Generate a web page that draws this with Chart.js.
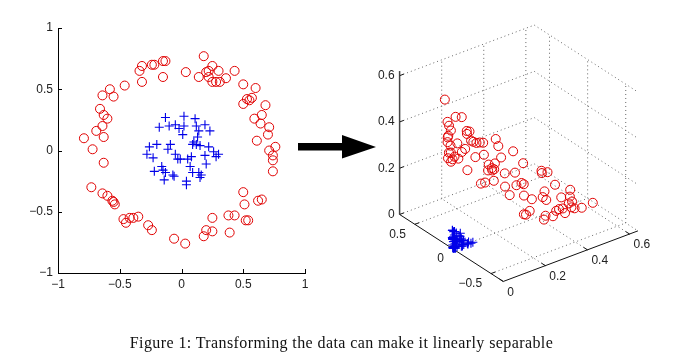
<!DOCTYPE html>
<html>
<head>
<meta charset="utf-8">
<script src="https://cdn.jsdelivr.net/npm/chart.js@4.4.0/dist/chart.umd.min.js"></script>
<style>
body { margin: 0; background: #fff; width: 700px; height: 361px; overflow: hidden; position: relative; }
#chart-left { position: absolute; left: 0; top: 0; }
#chart-right { position: absolute; left: 330px; top: 0; }
#arrow { position: absolute; left: 0; top: 0; pointer-events: none; }
#caption { position: absolute; left: 0; top: 334px; width: 683px; text-align: center;
  font-family: 'Liberation Serif', serif; font-size: 16px; letter-spacing: 0.4px; color: #111; white-space: nowrap; }
</style>
</head>
<body>
<canvas id="chart-left" width="330" height="310"></canvas>
<canvas id="chart-right" width="370" height="310"></canvas>
<svg id="arrow" width="700" height="361"><polygon points="298,143 342,143 342,135 376,147 342,158.5 342,150.5 298,150.5" fill="#000"/></svg>
<div id="caption">Figure 1: Transforming the data can make it linearly separable</div>

<script>
// outer ring (red circles)
const ring_x = [0.18,-0.32,-0.24,-0.22,-0.15,-0.13,-0.34,-0.32,-0.15,-0.46,0.035,0.14,0.20,0.22,0.25,0.30,0.22,0.25,0.28,0.31,0.36,0.43,
  0.50,0.60,0.50,0.53,0.55,0.57,0.68,0.59,0.65,0.64,0.71,0.70,0.61,0.76,0.71,0.74,0.74,0.74,
  -0.58,-0.64,-0.55,-0.66,-0.63,-0.60,-0.64,-0.69,-0.63,-0.79,-0.72,-0.63,
  -0.73,-0.64,-0.60,-0.56,-0.54,-0.55,-0.47,-0.45,-0.42,-0.39,-0.35,-0.27,-0.24,-0.06,0.03,0.18,0.20,0.25,0.25,0.38,0.43,0.39,0.50,0.51,0.52,0.54,0.62,0.65]
const ring_y = [0.77,0.69,0.70,0.70,0.73,0.73,0.65,0.56,0.60,0.53,0.64,0.60,0.64,0.65,0.69,0.65,0.60,0.56,0.56,0.56,0.59,0.65,
  0.54,0.51,0.38,0.42,0.41,0.43,0.37,0.26,0.29,0.22,0.19,0.13,0.08,0.03,0.00,-0.04,-0.08,-0.17,
  0.50,0.45,0.44,0.34,0.29,0.26,0.20,0.16,0.11,0.10,0.01,-0.10,
  -0.30,-0.35,-0.37,-0.41,-0.44,-0.42,-0.56,-0.59,-0.55,-0.55,-0.54,-0.61,-0.65,-0.72,-0.76,-0.70,-0.65,-0.66,-0.55,-0.53,-0.53,-0.67,-0.34,-0.44,-0.57,-0.57,-0.41,-0.40]

// inner cluster (blue plus)
const core_x = [-0.13,0.02,0.11,-0.18,-0.10,-0.05,0.02,-0.02,0.01,0.12,0.14,0.19,0.23,0.13,0.10,0.09,0.12,0.15,-0.26,-0.20,-0.09,-0.11,-0.28,-0.23,-0.05,
  -0.03,-0.01,0.05,0.08,0.22,0.26,0.30,0.19,0.28,0.07,0.20,-0.22,-0.16,-0.15,-0.13,-0.07,-0.06,-0.14,0.09,0.14,0.16,0.15,0.04,0.04]
const core_y = [0.27,0.28,0.26,0.19,0.20,0.21,0.20,0.18,0.13,0.20,0.16,0.21,0.16,0.11,0.07,0.05,0.05,0.04,0.03,0.05,0.05,0.01,-0.03,-0.06,-0.03,
  -0.07,-0.07,-0.07,-0.05,0.03,-0.01,-0.03,-0.04,-0.05,-0.13,-0.11,-0.17,-0.13,-0.16,-0.18,-0.20,-0.21,-0.24,-0.18,-0.18,-0.20,-0.22,-0.25,-0.28]

const ticks_2d = [-1, -0.5, 0, 0.5, 1]

// 3D axes: limits and tick labels
const box_x = [0, 0.64]
const box_y = [-0.66, 0.7]
const box_z = [0, 0.6]
const z_axis_top = 0.62
const ticks_x3 = [0, 0.2, 0.4, 0.6]
const ticks_y3 = [-0.5, 0, 0.5]
const ticks_z3 = [0, 0.2, 0.4, 0.6]

const red = '#e00000'
const blue = '#0000e8'
const label_font = {family: 'Liberation Sans', size: 12}

function fmt(v){
    return v < 0 ? '\u2212' + Math.abs(v) : String(v)
}

// the transform shown in the figure: (x1, x2) -> (x1^2, sqrt(2) x1 x2, x2^2)
function lift(xs, ys){
    return xs.map((a, i) => ({X: a * a, Y: Math.SQRT2 * a * ys[i], Z: ys[i] * ys[i]}))
}

// camera of the 3D panel (canvas pixels per unit along each axis)
const view3d = {ox: 66, oy: 216.7, kx: [217, -82], ky: [78.6, 51.1], kz: 240}
function project(X, Y, Z){
    return {
        x: view3d.ox + X * view3d.kx[0] + (box_y[1] - Y) * view3d.ky[0],
        y: view3d.oy + X * view3d.kx[1] + (box_y[1] - Y) * view3d.ky[1] - Z * view3d.kz
    }
}

// ---------- left: original data ----------
const inward_ticks = {
    id: 'inward_ticks',
    afterDraw(chart){
        const {ctx, chartArea: a, scales: {x, y}} = chart
        ctx.save()
        ctx.strokeStyle = '#000'
        ctx.lineWidth = 1
        ctx.beginPath()
        ticks_2d.forEach(v => {
            const px = Math.round(x.getPixelForValue(v)) + 0.5
            ctx.moveTo(px, a.bottom); ctx.lineTo(px, a.bottom - 4)
            const py = Math.round(y.getPixelForValue(v)) + 0.5
            ctx.moveTo(a.left, py); ctx.lineTo(a.left + 4, py)
        })
        ctx.stroke()
        ctx.restore()
    }
}

new Chart(document.getElementById('chart-left'), {
    type: 'scatter',
    data: {
        datasets: [
            {data: ring_x.map((v, i) => ({x: v, y: ring_y[i]})), pointStyle: 'circle', pointRadius: 4.5,
             borderColor: red, backgroundColor: 'rgba(0,0,0,0)', borderWidth: 1},
            {data: core_x.map((v, i) => ({x: v, y: core_y[i]})), pointStyle: 'cross', pointRadius: 4.5,
             borderColor: blue, backgroundColor: blue, borderWidth: 1.1}
        ]
    },
    options: {
        responsive: false,
        animation: false,
        events: [],
        layout: {padding: {top: 28, right: 25, left: 0, bottom: 0}},
        plugins: {legend: {display: false}, tooltip: {enabled: false}},
        scales: {
            x: {
                type: 'linear', min: -1, max: 1,
                afterBuildTicks: s => { s.ticks = ticks_2d.map(v => ({value: v})) },
                afterFit: s => { s.height = 37 },
                grid: {display: false, drawTicks: false},
                border: {display: true, color: '#000', width: 1},
                ticks: {padding: 4, color: '#222', font: label_font, maxRotation: 0, callback: fmt}
            },
            y: {
                type: 'linear', min: -1, max: 1,
                afterBuildTicks: s => { s.ticks = ticks_2d.map(v => ({value: v})) },
                afterFit: s => { s.width = 58 },
                grid: {display: false, drawTicks: false},
                border: {display: true, color: '#000', width: 1},
                ticks: {padding: 5, color: '#222', font: label_font, callback: fmt}
            }
        }
    },
    plugins: [inward_ticks]
})

// ---------- right: lifted data in 3D ----------
const ring_3d = lift(ring_x, ring_y)
const core_3d = lift(core_x, core_y)

function seg(ctx, sx, sy, a, b){
    const p = project(a[0], a[1], a[2]), q = project(b[0], b[1], b[2])
    ctx.moveTo(sx.getPixelForValue(p.x), sy.getPixelForValue(p.y))
    ctx.lineTo(sx.getPixelForValue(q.x), sy.getPixelForValue(q.y))
}

const box_3d = {
    id: 'box_3d',
    beforeDatasetsDraw(chart){
        const {ctx, scales: {x: sx, y: sy}} = chart
        const [x0, x1] = box_x, [y0, y1] = box_y, [z0, z1] = box_z
        ctx.save()
        // dotted grid on floor and back walls
        ctx.strokeStyle = '#666'
        ctx.lineWidth = 1
        ctx.setLineDash([1, 3])
        ctx.beginPath()
        ticks_x3.filter(v => v > 0).forEach(v => {
            seg(ctx, sx, sy, [v, y0, 0], [v, y1, 0])
            seg(ctx, sx, sy, [v, y1, 0], [v, y1, z1])
        })
        ticks_y3.forEach(v => {
            seg(ctx, sx, sy, [x0, v, 0], [x1, v, 0])
            seg(ctx, sx, sy, [x1, v, 0], [x1, v, z1])
        })
        ticks_z3.forEach(v => {
            seg(ctx, sx, sy, [x0, y1, v], [x1, y1, v])
            seg(ctx, sx, sy, [x1, y1, v], [x1, y0, v])
        })
        ctx.stroke()
        // solid axes
        ctx.setLineDash([])
        ctx.strokeStyle = '#111'
        ctx.beginPath()
        seg(ctx, sx, sy, [x0, y1, 0], [x0, y0, 0])
        seg(ctx, sx, sy, [x0, y0, 0], [x1, y0, 0])
        ticks_x3.forEach(v => seg(ctx, sx, sy, [v, y0, 0], [v, y0 + 0.05, 0]))
        ticks_y3.forEach(v => seg(ctx, sx, sy, [x0, v, 0], [x0 + 0.02, v, 0]))
        ticks_z3.forEach(v => seg(ctx, sx, sy, [x0, y1, v], [x0 + 0.02, y1, v]))
        ctx.stroke()
        ctx.strokeStyle = '#444'
        ctx.lineWidth = 1.5
        ctx.beginPath()
        seg(ctx, sx, sy, [x0, y1, 0], [x0, y1, z_axis_top])
        ctx.stroke()
        // tick labels
        ctx.fillStyle = '#222'
        ctx.font = '12px "Liberation Sans"'
        ctx.textBaseline = 'middle'
        ctx.textAlign = 'right'
        ticks_z3.forEach(v => {
            const p = project(x0, y1, v)
            ctx.fillText(fmt(v), sx.getPixelForValue(p.x) - 5, sy.getPixelForValue(p.y))
        })
        ticks_y3.forEach(v => {
            const p = project(x0, v, 0)
            ctx.fillText(fmt(v), sx.getPixelForValue(p.x) - 9, sy.getPixelForValue(p.y) + 10)
        })
        ctx.textAlign = 'left'
        ticks_x3.forEach(v => {
            const p = project(v, y0, 0)
            ctx.fillText(fmt(v), sx.getPixelForValue(p.x) + 4, sy.getPixelForValue(p.y) + 11)
        })
        ctx.restore()
    }
}

new Chart(document.getElementById('chart-right'), {
    type: 'scatter',
    data: {
        datasets: [
            {data: core_3d.map(p => project(p.X, p.Y, p.Z)), pointStyle: 'cross', pointRadius: 4.5,
             borderColor: blue, backgroundColor: blue, borderWidth: 1.1},
            {data: ring_3d.map(p => project(p.X, p.Y, p.Z)), pointStyle: 'circle', pointRadius: 4.5,
             borderColor: red, backgroundColor: 'rgba(0,0,0,0)', borderWidth: 1}
        ]
    },
    options: {
        responsive: false,
        animation: false,
        events: [],
        layout: {padding: 0},
        plugins: {legend: {display: false}, tooltip: {enabled: false}},
        scales: {
            x: {type: 'linear', min: 0, max: 370, display: false},
            y: {type: 'linear', min: 0, max: 310, reverse: true, display: false}
        }
    },
    plugins: [box_3d]
})
</script>
</body>
</html>
